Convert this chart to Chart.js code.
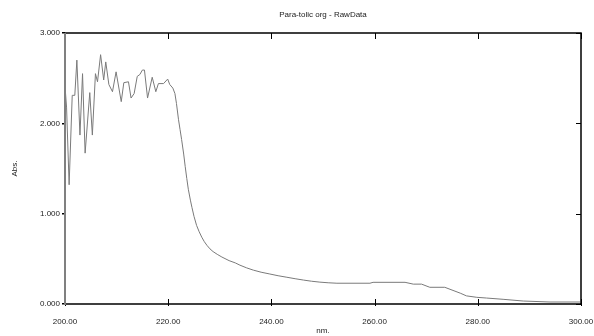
<!DOCTYPE html>
<html>
<head>
<meta charset="utf-8">
<script src="https://cdn.jsdelivr.net/npm/chart.js@4"></script>
<style>
  html, body { margin: 0; padding: 0; background: #fff; }
  #wrap { width: 594px; height: 336px; }
</style>
</head>
<body>
<div id="wrap"><canvas id="spectrum"></canvas></div>
<script>
const chartTitle = "Para-tolic org - RawData";
const xLabel = "nm.";
const yLabel = "Abs.";

// wavelength (nm) and absorbance
const wavelengths = [
  200.0, 200.3, 200.8, 201.4, 201.9, 202.3, 202.9, 203.4, 203.9, 204.8,
  205.3, 205.9, 206.3, 206.9, 207.5, 207.9, 208.5, 209.2, 209.9, 210.9,
  211.4, 212.3, 212.8, 213.4, 214.0, 214.5, 215.0, 215.4, 216.0, 216.9,
  217.6, 218.1, 219.1, 219.9, 220.3, 220.9, 221.3, 221.6, 222.0, 222.3,
  222.6, 223.0, 223.3, 223.6, 223.9, 224.3, 224.6, 225.0, 225.5, 226.0,
  226.5, 227.0, 227.5, 228.1, 228.7, 229.5, 230.4, 231.8, 233.0, 233.9,
  235.2, 236.5, 238.0, 239.7, 241.3, 243.0, 244.6, 246.2, 247.8, 249.4,
  251.0, 252.7, 259.1, 259.7, 265.9, 267.5, 269.1, 270.7, 273.6, 276.6,
  277.8, 279.8, 281.7, 284.9, 288.8, 294.0, 299.8
];
const absorbance = [
  2.41, 2.18, 1.32, 2.31, 2.31, 2.70, 1.87, 2.55, 1.67, 2.34,
  1.87, 2.55, 2.46, 2.76, 2.48, 2.68, 2.43, 2.35, 2.57, 2.24,
  2.45, 2.46, 2.28, 2.33, 2.52, 2.54, 2.59, 2.59, 2.28, 2.51,
  2.35, 2.44, 2.44, 2.49, 2.43, 2.39, 2.33, 2.22, 2.04, 1.93,
  1.82, 1.66, 1.52, 1.39, 1.27, 1.15, 1.07, 0.97, 0.87, 0.80,
  0.74, 0.69, 0.65, 0.61, 0.58, 0.55, 0.52, 0.48, 0.455, 0.43,
  0.40, 0.375, 0.352, 0.332, 0.313, 0.296, 0.28, 0.265, 0.252, 0.242,
  0.235, 0.23, 0.23, 0.24, 0.24, 0.22, 0.22, 0.185, 0.185, 0.12,
  0.09, 0.074, 0.066, 0.052, 0.033, 0.022, 0.022
];

const font = { family: "'Liberation Sans', Arial, sans-serif", size: 8 };

// box round the plot, with ticks pointing inward on the top, bottom and right
const frame = {
  id: "frame",
  afterDraw(chart) {
    const { ctx, chartArea: a, scales } = chart;
    ctx.save();
    ctx.strokeStyle = "#000";
    ctx.lineWidth = 1.5;
    ctx.beginPath();
    ctx.moveTo(a.left, a.top); ctx.lineTo(a.right, a.top);
    ctx.lineTo(a.right, a.bottom); ctx.lineTo(a.left, a.bottom);
    ctx.stroke();

    ctx.lineWidth = 1;
    ctx.beginPath();
    scales.x.ticks.forEach(t => {
      const px = Math.round(scales.x.getPixelForValue(t.value)) + 0.5;
      ctx.moveTo(px, a.top); ctx.lineTo(px, a.top + 6);
      ctx.moveTo(px, a.bottom + 2); ctx.lineTo(px, a.bottom - 5);
    });
    scales.y.ticks.forEach(t => {
      const py = Math.round(scales.y.getPixelForValue(t.value)) + 0.5;
      ctx.moveTo(a.right, py); ctx.lineTo(a.right - 5, py);
    });
    ctx.stroke();

    ctx.strokeStyle = "#808080";
    ctx.lineWidth = 2;
    ctx.beginPath();
    ctx.moveTo(a.left, a.top); ctx.lineTo(a.left, a.bottom + 1);
    ctx.stroke();
    ctx.restore();
  }
};

new Chart(document.getElementById("spectrum"), {
  type: "scatter",
  data: {
    datasets: [{
      data: wavelengths.map((w, i) => ({ x: w, y: absorbance[i] })),
      showLine: true,
      borderColor: "#7a7a7a",
      borderWidth: 1,
      pointRadius: 0,
      tension: 0
    }]
  },
  options: {
    responsive: true,
    maintainAspectRatio: false,
    animation: false,
    layout: { padding: 0 },
    plugins: { legend: { display: false }, tooltip: { enabled: false } },
    scales: {
      x: {
        type: "linear", position: "bottom", min: 200, max: 300,
        grid: { display: false },
        border: { display: false },
        ticks: { stepSize: 20, padding: 5, color: "#222", font,
                 maxRotation: 0, callback: v => v.toFixed(2) },
        title: { display: true, text: xLabel, color: "#222", font, padding: 0 },
        afterFit(s) { s.height = 32; s.paddingLeft = 0; s.paddingRight = 0; }
      },
      x2: {
        type: "linear", position: "top", min: 200, max: 300,
        grid: { display: false },
        border: { display: false },
        ticks: { display: false },
        title: { display: true, text: chartTitle, color: "#222", font, padding: 10 },
        afterFit(s) { s.height = 33; s.paddingLeft = 0; s.paddingRight = 0; }
      },
      y: {
        type: "linear", position: "left", min: 0, max: 3,
        grid: { drawOnChartArea: false, tickLength: 3, color: "#000", lineWidth: 1.5 },
        border: { display: false },
        ticks: { stepSize: 1, padding: 2, color: "#222", font,
                 callback: v => v.toFixed(3) },
        title: { display: true, text: yLabel, color: "#222", font, padding: 10 },
        afterFit(s) { s.width = 65; s.paddingTop = 0; s.paddingBottom = 0; }
      },
      y2: {
        type: "linear", position: "right", min: 0, max: 3,
        grid: { display: false },
        border: { display: false },
        ticks: { display: false },
        afterFit(s) { s.width = 13; }
      }
    }
  },
  plugins: [frame]
});
</script>
</body>
</html>
